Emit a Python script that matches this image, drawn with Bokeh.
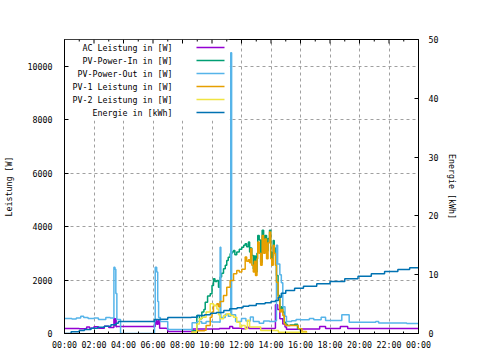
from bokeh.plotting import figure
from bokeh.models import LinearAxis, Range1d, FixedTicker, Label, BoxAnnotation
from bokeh.embed import file_html
from bokeh.resources import INLINE

# ---------------- data (hours of day) ----------------
title_text = "Tagesdiagramm vom 2026-01-22"
x_ticks = [0, 2, 4, 6, 8, 10, 12, 14, 16, 18, 20, 22, 24]
x_minor_ticks = [1, 3, 5, 7, 9, 11, 13, 15, 17, 19, 21, 23]
x_tick_labels = ["00:00", "02:00", "04:00", "06:00", "08:00", "10:00", "12:00",
                 "14:00", "16:00", "18:00", "20:00", "22:00", "00:00"]
y_max = 11000
y_ticks = [0, 2000, 4000, 6000, 8000, 10000]
y2_max = 50
y2_ticks = [0, 10, 20, 30, 40, 50]

series_names = ["AC Leistung in [W]", "PV-Power-In in [W]", "PV-Power-Out in [W]",
                "PV-1 Leistung in [W]", "PV-2 Leistung in [W]", "Energie in [kWh]"]
series_colors = ["#9400d3", "#009e73", "#56b4e9", "#e69f00", "#f0e442", "#0072b2"]

ac_t = [0.0, 1.0, 1.5, 1.7, 2.0, 2.3, 2.7, 3.0, 3.35, 3.4, 3.45, 3.5, 3.55, 6.1, 6.15,
        6.25, 6.35, 6.45, 6.9, 7.0, 8.6, 8.7, 10.5, 11.2, 11.4, 12.0, 12.3, 12.5, 14.26,
        14.3, 14.45, 14.6, 14.8, 14.95, 15.05, 16.0, 17.3, 17.7, 18.7, 19.2, 24.0]
ac_w = [190, 180, 240, 200, 250, 200, 270, 220, 560, 300, 550, 250, 260, 260, 500,
        350, 480, 200, 190, 75, 75, 170, 190, 260, 200, 180, 230, 190, 200,
        1075, 900, 550, 360, 240, 160, 170, 260, 190, 260, 190, 190]

pv_in_t = [8.6, 8.97, 9.15, 9.31, 9.45, 9.54, 9.7, 9.88, 10.0, 10.1, 10.2, 10.33, 10.44,
           10.55, 10.65, 10.78, 10.9, 11.0, 11.1, 11.23, 11.35, 11.46, 11.55, 11.68,
           11.85, 12.02, 12.15, 12.25, 12.35, 12.47, 12.55, 12.62, 12.7, 12.8, 12.87,
           12.95, 13.05, 13.1, 13.2, 13.3, 13.4, 13.5, 13.6, 13.7, 13.8, 13.9, 13.98,
           14.05, 14.15, 14.22, 14.3, 14.37, 14.48, 14.6, 14.7, 14.8, 14.9, 15.0, 15.1,
           15.3, 15.6, 15.8, 16.0, 16.2]
pv_in_w = [100, 670, 550, 800, 900, 1170, 1400, 1490, 1800, 2050, 1950, 1985, 1730,
           2110, 2250, 2420, 2550, 2730, 2850, 2985, 3050, 3110, 2950, 3050,
           3150, 3230, 3300, 3360, 3250, 3420, 3045, 3200, 2920, 2420, 2900,
           2300, 3000, 3670, 3500, 2670, 3860, 3200, 3670, 3100, 3550, 3860, 3045,
           2800, 3480, 3200, 2920, 2170, 1420, 920, 1000, 800, 420, 350, 300,
           320, 350, 175, 50, 0]

pv_out_t = [0.0, 0.5, 0.8, 1.1, 1.3, 1.6, 2.0, 2.3, 2.8, 3.1, 3.35, 3.42, 3.48, 3.55,
            3.8, 6.1, 6.15, 6.25, 6.32, 6.38, 6.5, 7.0, 8.6, 8.65, 9.0, 9.3, 9.6, 10.0,
            10.5, 10.55, 10.6, 10.9, 11.1, 11.27, 11.33, 11.6, 12.0, 12.3, 12.6, 12.8,
            13.2, 13.5, 13.9, 14.3, 14.37, 14.45, 14.6, 14.7, 14.8, 14.95, 15.05, 15.4,
            15.7, 16.0, 16.6, 16.9, 17.4, 17.7, 18.8, 19.3, 21.1, 21.3, 23.2, 24.0]
pv_out_w = [560, 540, 580, 650, 600, 560, 580, 520, 600, 580, 2480, 2400, 1500, 520,
            0, 450, 2480, 2300, 1200, 600, 450, 150, 130, 400, 450, 380, 450, 430,
            420, 3230, 600, 720, 650, 10500, 700, 450, 560, 470, 620, 450,
            380, 470, 450, 480, 3300, 2600, 2200, 1900, 1000, 650, 450, 480,
            520, 510, 560, 510, 610, 490, 700, 420, 450, 390, 370, 370]

pv1_t = [8.6, 9.0, 9.5, 9.6, 9.88, 10.0, 10.1, 10.33, 10.44, 10.55, 10.78, 11.0, 11.23,
         11.46, 11.68, 11.85, 12.02, 12.25, 12.35, 12.47, 12.55, 12.62, 12.7, 12.8,
         12.87, 12.95, 13.05, 13.1, 13.2, 13.3, 13.4, 13.5, 13.6, 13.7, 13.8, 13.9,
         13.98, 14.05, 14.15, 14.22, 14.3, 14.37, 14.48, 14.6, 14.7, 14.8, 14.9, 15.0,
         15.7, 15.85, 16.1, 16.4]
pv1_w = [50, 100, 120, 300, 610, 800, 1050, 1110, 1000, 1200, 1420, 1730, 1985,
         2235, 2360, 2300, 2400, 2860, 2700, 2760, 2650, 3170, 2550, 2300,
         2700, 2170, 2800, 3420, 3000, 2550, 3670, 3000, 3540, 2800, 3400, 3800,
         2800, 2550, 3300, 3000, 2550, 1920, 1300, 800, 900, 670, 360, 300,
         300, 175, 75, 0]

pv2_t = [8.6, 8.97, 9.15, 9.31, 9.6, 9.88, 10.1, 10.33, 10.44, 10.55, 10.78, 11.0,
         11.23, 11.46, 11.68, 11.9, 12.02, 12.25, 12.4, 12.55, 13.0, 13.3, 14.5, 16.4]
pv2_w = [50, 360, 550, 610, 800, 1110, 1050, 920, 700, 550, 670, 740,
         670, 610, 420, 240, 300, 175, 500, 240, 240, 110, 50, 0]

energy_t = [0.0, 0.45, 1.0, 1.35, 1.8, 2.25, 2.7, 3.15, 3.5, 3.65, 6.1, 6.45, 7.0, 8.6,
            9.0, 9.5, 9.9, 10.3, 10.8, 11.2, 11.7, 12.1, 12.5, 13.0, 13.6, 14.0, 14.3,
            14.5, 14.7, 15.0, 15.6, 16.2, 17.1, 18.0, 19.0, 19.9, 20.8, 21.7, 22.6,
            23.4, 24.0]
energy_kwh = [0.0, 0.28, 0.51, 0.68, 0.9, 1.07, 1.25, 1.47, 1.75, 2.04, 2.38, 2.43, 2.72,
              2.77, 3.06, 3.2, 3.45, 3.57, 3.91, 4.2, 4.4, 4.64, 4.76, 5.05, 5.22, 5.44,
              5.61, 6.17, 6.85, 7.31, 7.71, 8.05, 8.45, 8.84, 9.3, 9.74, 10.15, 10.54,
              10.88, 11.17, 11.25]

# ---------------- figure ----------------
FONT = "DejaVu Sans Mono"
FS = "8.3px"
FRAME_H = 294

p = figure(width=480, height=360, output_backend="svg", toolbar_location=None,
           x_range=Range1d(0, 24), y_range=Range1d(0, y_max),
           min_border_left=64, min_border_right=62, min_border_top=39,
           min_border_bottom=27, background_fill_color="white",
           border_fill_color="white")
p.extra_y_ranges = {"energy": Range1d(0, y2_max)}
p.outline_line_color = "black"
p.outline_line_width = 1

# axes
xa = p.xaxis[0]
xa.ticker = FixedTicker(ticks=x_ticks, minor_ticks=x_minor_ticks)
xa.major_label_overrides = {t: l for t, l in zip(x_ticks, x_tick_labels)}
ya = p.yaxis[0]
ya.ticker = FixedTicker(ticks=y_ticks)
ya.axis_label = "Leistung [W]"

y2 = LinearAxis(y_range_name="energy", ticker=FixedTicker(ticks=y2_ticks),
                axis_label="Energie [kWh]")
p.add_layout(y2, "right")

for ax in [xa, ya, y2]:
    ax.major_tick_in = 4
    ax.major_tick_out = 0
    ax.minor_tick_in = 2
    ax.minor_tick_out = 0
    ax.axis_line_color = "black"
    ax.major_tick_line_color = "black"
    ax.minor_tick_line_color = "black"
    ax.major_label_text_font = FONT
    ax.major_label_text_font_size = FS
    ax.major_label_text_color = "black"
    ax.axis_label_text_font = FONT
    ax.axis_label_text_font_style = "normal"
    ax.axis_label_text_font_size = FS
    ax.axis_label_text_color = "black"
ya.major_label_standoff = 12
ya.axis_label_standoff = 11
y2.major_label_standoff = 10
y2.axis_label_standoff = 6
xa.major_label_standoff = 6
ya.minor_tick_line_color = None
y2.minor_tick_line_color = None

# mirrored ticks on the top border (pointing inward)
px_per_w = y_max / FRAME_H
p.segment(x0=x_ticks, y0=[y_max] * len(x_ticks), x1=x_ticks,
          y1=[y_max - 4 * px_per_w] * len(x_ticks), line_color="black", line_width=1)
p.segment(x0=x_minor_ticks, y0=[y_max] * len(x_minor_ticks), x1=x_minor_ticks,
          y1=[y_max - 2 * px_per_w] * len(x_minor_ticks), line_color="black", line_width=1)

# grid
p.xgrid.ticker = FixedTicker(ticks=x_ticks)
p.ygrid.ticker = FixedTicker(ticks=y_ticks)
for g in [p.xgrid, p.ygrid]:
    g.grid_line_color = "#a0a0a0"
    g.grid_line_dash = "3 3"
    g.grid_line_width = 1

# opaque key background
p.add_layout(BoxAnnotation(left=0, right=165, bottom=213, top=294,
                           left_units="screen", right_units="screen",
                           bottom_units="screen", top_units="screen",
                           fill_color="white", fill_alpha=1.0, line_alpha=0,
                           level="underlay"))

# data lines
data = [(ac_t, ac_w, "default"), (pv_in_t, pv_in_w, "default"),
        (pv_out_t, pv_out_w, "default"), (pv1_t, pv1_w, "default"),
        (pv2_t, pv2_w, "default"), (energy_t, energy_kwh, "energy")]
for (t, v, rng), col in zip(data, series_colors):
    p.step(t, v, mode="after", line_color=col, line_width=1.5, y_range_name=rng)

# key
for i, (name, col) in enumerate(zip(series_names, series_colors)):
    ys = 286 - 13 * i
    p.add_layout(Label(x=108, y=ys, x_units="screen", y_units="screen", text=name,
                       text_align="right", text_baseline="middle",
                       text_font=FONT, text_font_size=FS, text_color="black"))
    p.add_layout(BoxAnnotation(left=132, right=160, bottom=ys - 0.75, top=ys + 0.75,
                               left_units="screen", right_units="screen",
                               bottom_units="screen", top_units="screen",
                               fill_color=col, fill_alpha=1.0, line_alpha=0))

# title
p.add_layout(Label(x=162.5, y=315, x_units="screen", y_units="screen", text=title_text,
                   text_align="center", text_baseline="middle",
                   text_font=FONT, text_font_size=FS, text_color="black"))

open("out.html", "w").write(file_html(p, INLINE))
